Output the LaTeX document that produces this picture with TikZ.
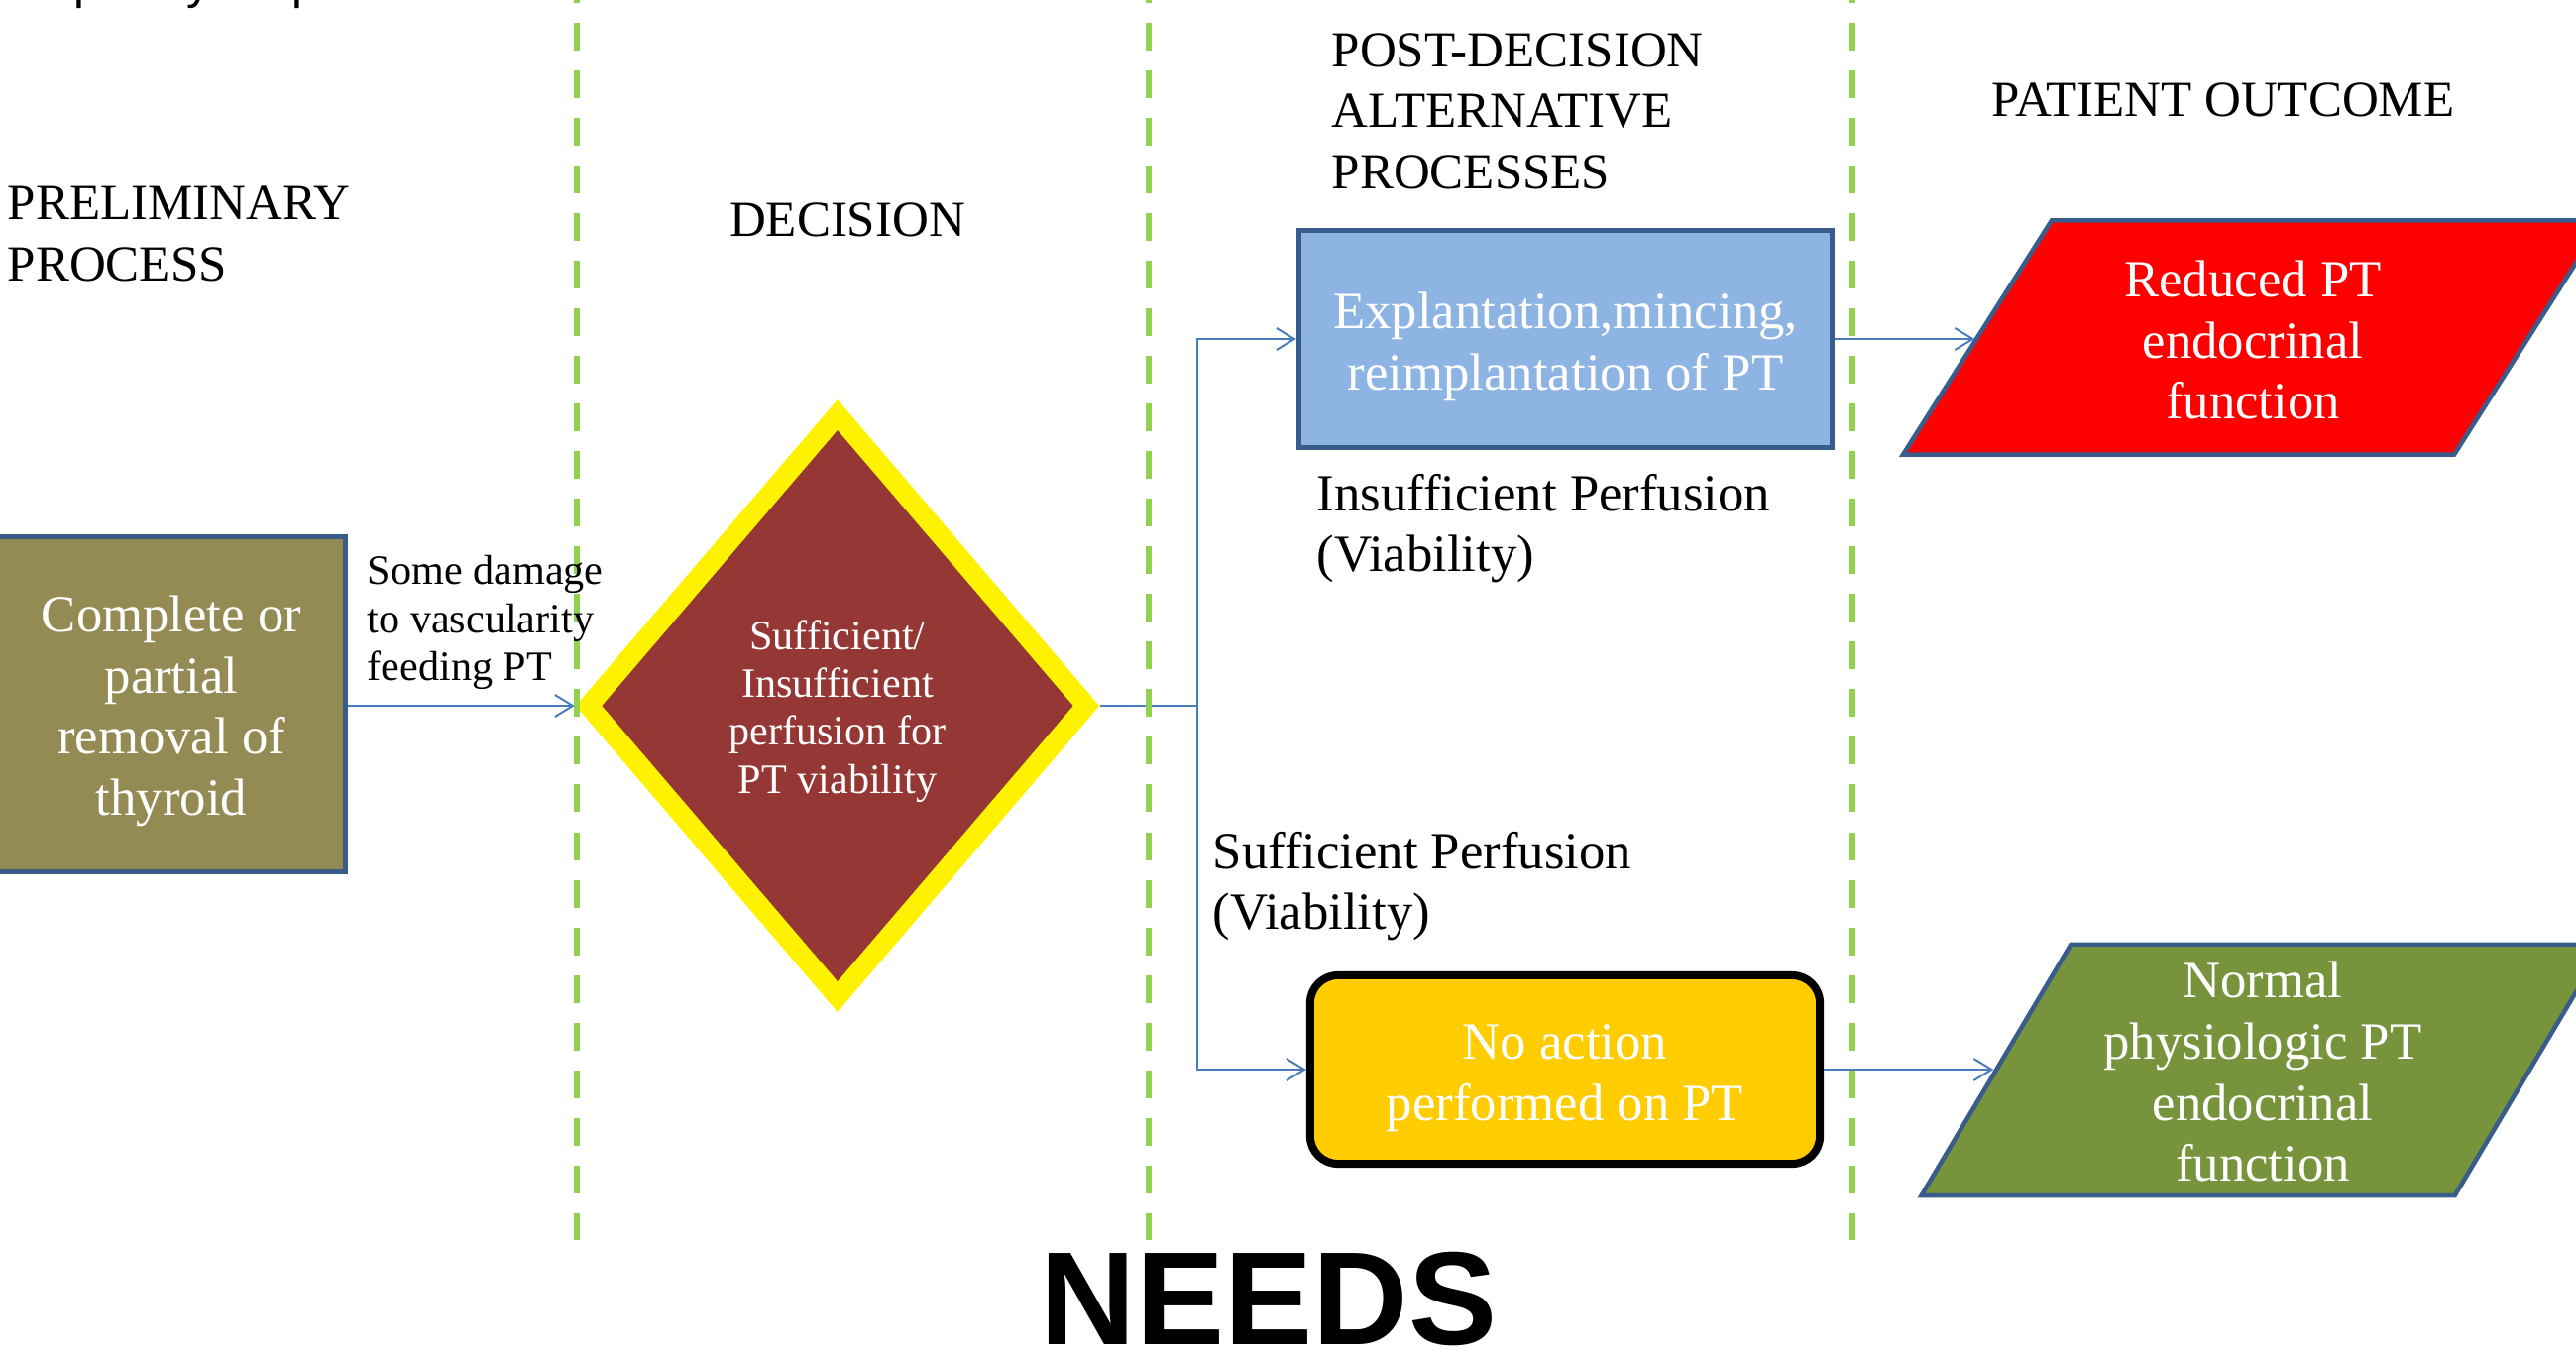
\documentclass[tikz,border=0pt]{standalone}
\usepackage{fontspec}
\setmainfont{Liberation Serif}
\newfontfamily\arialfont{Liberation Sans}
\usetikzlibrary{arrows.meta,shapes.geometric,calc}
\definecolor{dashgreen}{HTML}{92D050}
\definecolor{connblue}{HTML}{4A7EBB}
\definecolor{bordblue}{HTML}{385D8A}
\definecolor{olivebox}{HTML}{948A54}
\definecolor{decred}{HTML}{953735}
\definecolor{lightbluebox}{HTML}{8EB4E3}
\definecolor{goldbox}{HTML}{FFCC00}
\definecolor{outgreen}{HTML}{77933C}
\tikzset{
  conn/.style={draw=connblue, line width=0.02cm, -{Straight Barb[length=0.18cm,width=0.22cm]}},
  gline/.style={draw=dashgreen, line width=0.06cm, dash pattern=on 0.28cm off 0.2cm},
  headtxt/.style={font=\fontsize{14.5}{17.5}\selectfont, inner sep=0, align=left},
  lbltxt/.style={font=\fontsize{15}{17.5}\selectfont, inner sep=0, align=left},
  boxtxt/.style={text=white, font=\fontsize{15}{17.5}\selectfont, align=center, inner sep=0},
  smalltxt/.style={font=\fontsize{12}{13.7}\selectfont, inner sep=0, align=left},
  procbox/.style={draw=bordblue, line width=0.05cm, boxtxt},
  outshape/.style={trapezium, trapezium stretches=true, draw=bordblue, line width=0.045cm, boxtxt}
}
\begin{document}
\begin{tikzpicture}[x=0.01cm,y=-0.01cm]
\useasboundingbox (0,0) rectangle (2599,1369);
\begin{scope}
\clip (0,0) rectangle (2599,1369);
% cut-off title at the top
\node[font=\arialfont\fontsize{13.9}{16}\selectfont, anchor=base west, inner sep=0] (toptxt) at (-29,-2) {Complexity map};

% shapes
\node[procbox, fill=olivebox, minimum width=3.51cm, minimum height=3.38cm] (prelim) at (173,710.5) {\rule{0pt}{14.25pt}Complete or\\partial\\removal of\\thyroid};
\node[diamond, draw=yellow, fill=decred, line width=0.2cm, minimum width=5.10cm, minimum height=5.95cm, inner sep=0, text=white, font=\fontsize{12}{13.7}\selectfont, align=center] (dec) at (845,712) {\rule{0pt}{11.6pt}Sufficient/\\Insufficient\\perfusion for\\PT viability};
\node[procbox, fill=lightbluebox, minimum width=5.38cm, minimum height=2.19cm] (expl) at (1579.5,342) {\rule{0pt}{14.8pt}Explantation,mincing,\\reimplantation of PT};
\node[boxtxt, draw=black, fill=goldbox, line width=0.08cm, rounded corners=0.28cm, minimum width=5.14cm, minimum height=1.90cm] (noact) at (1579,1079) {\rule{0pt}{14.8pt}No action\\performed on PT};
\node[outshape, fill=red, trapezium left angle=60, trapezium right angle=120, minimum width=7.06cm, minimum height=2.36cm] (reduced) at (2273,340.5) {\rule{0pt}{12pt}Reduced PT\\endocrinal\\function};
\node[outshape, fill=outgreen, trapezium left angle=61, trapezium right angle=119, minimum width=6.90cm, minimum height=2.53cm] (normal) at (2283,1079.5) {\rule{0pt}{11.4pt}Normal\\physiologic PT\\endocrinal\\function};

% connectors
\coordinate (split) at (1208,712);
\draw[conn] (prelim.east |- dec.west) -- (dec.west);
\draw[conn, -] (dec.east) -- (split);
\draw[conn] (split) |- (expl.west);
\draw[conn] (split) |- (noact.west);
\draw[conn] (expl.east) -- (expl.east -| reduced.west);
\draw[conn] (noact.east) -- (noact.east -| normal.west);

% dashed separators
\draw[gline] (582,-25) -- (582,1251);
\draw[gline] (1159,-25) -- (1159,1251);
\draw[gline] (1869,-25) -- (1869,1251);

% labels
\node[headtxt, anchor=west] (h1) at (7,236) {PRELIMINARY\\PROCESS};
\node[headtxt] (h2) at (855,222) {DECISION};
\node[headtxt, anchor=west] (h3) at (1343,112) {POST-DECISION\\ALTERNATIVE\\PROCESSES};
\node[headtxt] (h4) at (2243,101) {PATIENT OUTCOME};
\node[lbltxt, anchor=west] (ins) at (1328,533) {Insufficient Perfusion\\(Viability)};
\node[lbltxt, anchor=west] (suf) at (1223,894) {Sufficient Perfusion\\(Viability)};
\node[smalltxt, anchor=west] (dmg) at (370,628) {Some damage\\to vascularity\\feeding PT};
\node[font=\arialfont\bfseries\fontsize{38}{40}\selectfont, anchor=base, inner sep=0] (needs) at (1280,1356) {NEEDS};
\end{scope}
\end{tikzpicture}
\end{document}
